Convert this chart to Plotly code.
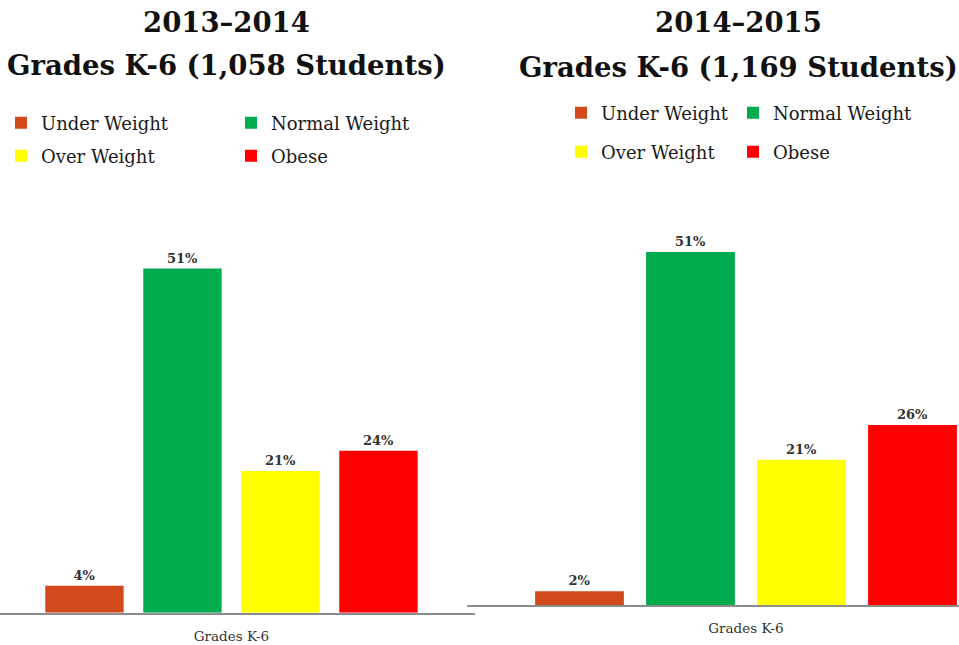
import plotly.graph_objects as go

# ---- data ----
categories = ["Grades K-6"]
series_names = ["Under Weight", "Normal Weight", "Over Weight", "Obese"]
series_colors = ["#D24A1B", "#00AC4E", "#FFFF00", "#FF0000"]
values_2013_2014 = [4, 51, 21, 24]
values_2014_2015 = [2, 51, 21, 26]
title_2013_2014 = ["2013–2014", "Grades K-6 (1,058 Students)"]
title_2014_2015 = ["2014–2015", "Grades K-6 (1,169 Students)"]

W, H = 959, 645
FONT = "DejaVu Serif"

def px_x(p):
    return p / W

def px_y(p):
    return 1 - p / H

fig = go.Figure()

panels = [
    (values_2013_2014, "x", "y"),
    (values_2014_2015, "x2", "y2"),
]
legend_pos = {
    0: [(15, 123), (245, 123), (15, 156), (245, 156)],
    1: [(575, 113), (747, 113), (575, 152), (747, 152)],
}

leg_idx = 0
for pi, (vals, xa, ya) in enumerate(panels):
    for si, name in enumerate(series_names):
        leg_idx += 1
        lname = "legend" if leg_idx == 1 else f"legend{leg_idx}"
        fig.add_trace(go.Bar(
            x=categories, y=[vals[si]], name=name,
            marker=dict(color=series_colors[si], line=dict(width=0)),
            text=[f"<b>{vals[si]}%</b>"], textposition="outside",
            textfont=dict(family=FONT, size=13, color="#333333"),
            cliponaxis=False,
            xaxis=xa, yaxis=ya, legend=lname, showlegend=True,
        ))
        mx, my = legend_pos[pi][si]
        fig.layout[lname] = dict(
            x=px_x(mx - 14), y=px_y(my), xanchor="left", yanchor="middle",
            bgcolor="rgba(0,0,0,0)", borderwidth=0,
            font=dict(family=FONT, size=18, color="#1a1a1a"),
        )

axis_common = dict(showgrid=False, zeroline=False, showline=True,
                   linecolor="#8c8c8c", linewidth=2, ticks="",
                   tickfont=dict(family=FONT, size=13.5, color="#333333"),
                   ticklabelstandoff=10, fixedrange=True)

def title_ann(text, cx, cy):
    return dict(text=f"<b>{text}</b>", x=px_x(cx), y=px_y(cy), xref="paper", yref="paper",
                xanchor="center", yanchor="middle", showarrow=False,
                font=dict(family=FONT, size=27.5, color="#111111"))

fig.update_layout(
    width=W, height=H,
    margin=dict(l=0, r=0, t=0, b=0),
    paper_bgcolor="white", plot_bgcolor="rgba(0,0,0,0)",
    barmode="group", bargap=0.2, bargroupgap=0.2,
    hovermode=False,
    xaxis=dict(domain=[0, px_x(475)], range=[-0.4724, 0.4970], anchor="y", **axis_common),
    yaxis=dict(domain=[px_y(612.7), px_y(241.5)], range=[0, 55], visible=False, anchor="x"),
    xaxis2=dict(domain=[px_x(467), 1], range=[-0.5027, 0.3838], anchor="y2", **axis_common),
    yaxis2=dict(domain=[px_y(605), px_y(224.4)], range=[0, 55], visible=False, anchor="x2"),
    annotations=[
        title_ann(title_2013_2014[0], 226, 22),
        title_ann(title_2013_2014[1], 226, 65),
        title_ann(title_2014_2015[0], 738, 22),
        title_ann(title_2014_2015[1], 738, 67),
    ],
)

fig.write_html(
    "out.html",
    config={"displayModeBar": False, "staticPlot": True},
    post_script="document.body.style.margin='0';document.body.style.overflow='hidden';",
)
